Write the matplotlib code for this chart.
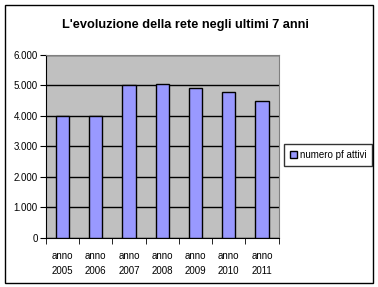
import matplotlib.pyplot as plt
from matplotlib.patches import Rectangle
from matplotlib.ticker import FuncFormatter, FixedLocator

plt.rcParams['font.family'] = ['Liberation Sans', 'DejaVu Sans']

anni = ['anno\n2005', 'anno\n2006', 'anno\n2007', 'anno\n2008', 'anno\n2009', 'anno\n2010', 'anno\n2011']
numero_pf_attivi = [3980, 4000, 5030, 5060, 4930, 4800, 4500]
y_ticks = [0, 1000, 2000, 3000, 4000, 5000, 6000]

fig = plt.figure(figsize=(3.78, 2.87), dpi=100)
fig.patch.set_facecolor('white')
# bordo esterno
fig.add_artist(Rectangle((4.5 / 378, 4.5 / 287), 368 / 378, 278 / 287,
                         transform=fig.transFigure, fill=False, edgecolor='black', lw=1))

ax = fig.add_axes([46 / 378, 1 - 237.5 / 287, 232.5 / 378, 182.5 / 287])
ax.set_facecolor('#c0c0c0')
x = range(len(anni))
ax.bar(x, numero_pf_attivi, width=0.4, color='#9999ff', edgecolor='black', lw=1,
       label='numero pf attivi', zorder=3)
ax.set_xlim(-0.5, len(anni) - 0.5)
ax.set_ylim(0, 6000)
ax.set_yticks(y_ticks)
ax.yaxis.set_major_formatter(FuncFormatter(lambda v, p: f'{int(v):,}'.replace(',', '.')))
ax.grid(axis='y', color='black', lw=1, zorder=1)
ax.set_xticks(list(x))
ax.set_xticklabels(anni, fontsize=7, linespacing=1.6)
ax.tick_params(axis='x', length=0, pad=10)
ax.xaxis.set_minor_locator(FixedLocator([i - 0.5 for i in range(len(anni) + 1)]))
ax.tick_params(axis='x', which='minor', length=4, color='black')
ax.tick_params(axis='y', labelsize=7, length=4, pad=2)
for s in ['top', 'right']:
    ax.spines[s].set_color('#808080')
ax.spines['left'].set_color('black')
ax.spines['bottom'].set_color('black')

fig.text(185 / 378, 1 - 25 / 287, "L'evoluzione della rete negli ultimi 7 anni",
         ha='center', va='center', fontsize=9.2, fontweight='bold')

leg = fig.legend(loc='center', bbox_to_anchor=(328 / 378, 1 - 155 / 287), fontsize=7,
                 frameon=True, fancybox=False, edgecolor='black', handlelength=0.8,
                 handleheight=0.8, handletextpad=0.25, borderpad=0.6, borderaxespad=0)
leg.get_frame().set_linewidth(1)

fig.savefig('out.png', dpi=100)
